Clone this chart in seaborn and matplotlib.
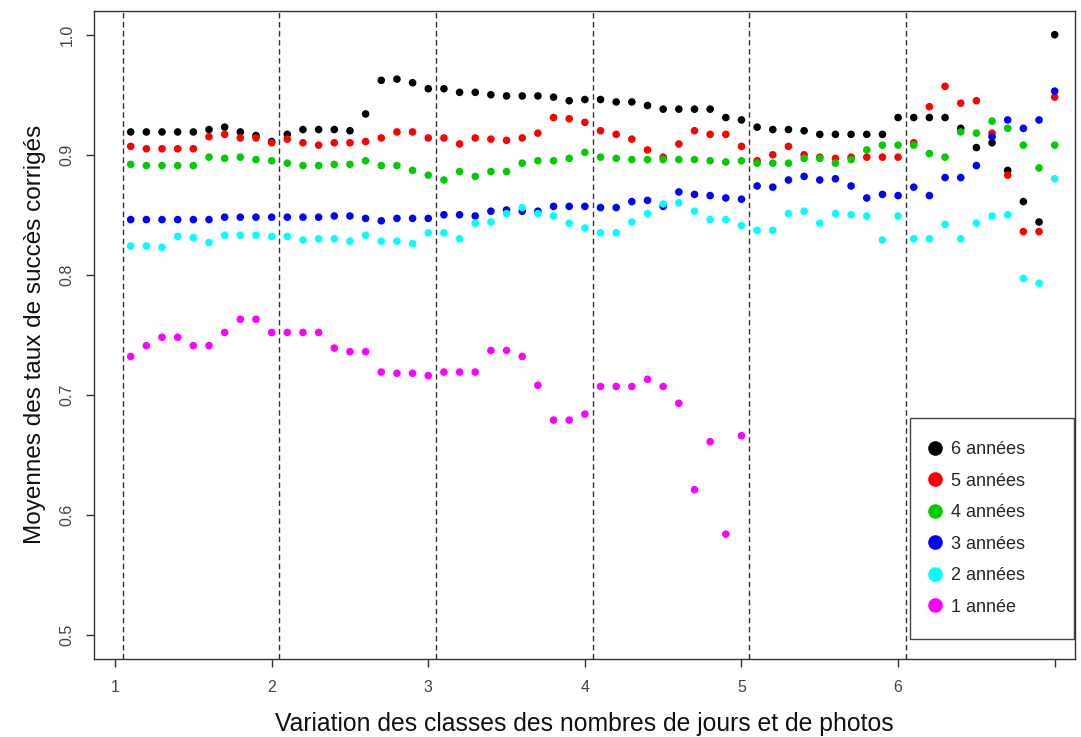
import numpy as np
import pandas as pd
import matplotlib
matplotlib.use("Agg")
import matplotlib.pyplot as plt
from matplotlib.lines import Line2D
import seaborn as sns

# Classes (x positions of each mean)
classes = [1.1, 1.2, 1.3, 1.4, 1.5, 1.6, 1.7, 1.8, 1.9, 2.0,
           2.1, 2.2, 2.3, 2.4, 2.5, 2.6, 2.7, 2.8, 2.9, 3.0,
           3.1, 3.2, 3.3, 3.4, 3.5, 3.6, 3.7, 3.8, 3.9, 4.0,
           4.1, 4.2, 4.3, 4.4, 4.5, 4.6, 4.7, 4.8, 4.9, 5.0,
           5.1, 5.2, 5.3, 5.4, 5.5, 5.6, 5.7, 5.8, 5.9, 6.0,
           6.1, 6.2, 6.3, 6.4, 6.5, 6.6, 6.7, 6.8, 6.9, 7.0]

annees_6 = [0.919, 0.919, 0.919, 0.919, 0.919, 0.921, 0.923, 0.919, 0.916, 0.911,
            0.917, 0.921, 0.921, 0.921, 0.920, 0.934, 0.962, 0.963, 0.960, 0.955,
            0.955, 0.952, 0.952, 0.950, 0.949, 0.949, 0.949, 0.948, 0.945, 0.946,
            0.946, 0.944, 0.944, 0.941, 0.938, 0.938, 0.938, 0.938, 0.931, 0.929,
            0.923, 0.921, 0.921, 0.920, 0.917, 0.917, 0.917, 0.917, 0.917, 0.931,
            0.931, 0.931, 0.931, 0.922, 0.906, 0.910, 0.887, 0.861, 0.844, 1.000]

annees_5 = [0.907, 0.905, 0.905, 0.905, 0.905, 0.915, 0.917, 0.914, 0.914, 0.910,
            0.913, 0.910, 0.908, 0.910, 0.910, 0.911, 0.914, 0.919, 0.919, 0.914,
            0.914, 0.909, 0.914, 0.913, 0.912, 0.914, 0.918, 0.931, 0.930, 0.927,
            0.920, 0.917, 0.913, 0.904, 0.898, 0.909, 0.920, 0.917, 0.917, 0.907,
            0.895, 0.900, 0.907, 0.900, 0.898, 0.897, 0.898, 0.898, 0.898, 0.898,
            0.910, 0.940, 0.957, 0.943, 0.945, 0.918, 0.883, 0.836, 0.836, 0.948]

annees_4 = [0.892, 0.891, 0.891, 0.891, 0.891, 0.898, 0.897, 0.898, 0.896, 0.895,
            0.893, 0.891, 0.891, 0.892, 0.892, 0.895, 0.891, 0.891, 0.887, 0.883,
            0.879, 0.886, 0.882, 0.886, 0.886, 0.893, 0.895, 0.895, 0.897, 0.902,
            0.898, 0.897, 0.896, 0.896, 0.896, 0.896, 0.896, 0.895, 0.894, 0.895,
            0.893, 0.893, 0.893, 0.897, 0.897, 0.893, 0.896, 0.904, 0.908, 0.908,
            0.908, 0.901, 0.898, 0.919, 0.918, 0.928, 0.922, 0.908, 0.889, 0.908]

annees_3 = [0.846, 0.846, 0.846, 0.846, 0.846, 0.846, 0.848, 0.848, 0.848, 0.848,
            0.848, 0.848, 0.848, 0.849, 0.849, 0.847, 0.845, 0.847, 0.847, 0.847,
            0.850, 0.850, 0.849, 0.853, 0.854, 0.853, 0.853, 0.857, 0.857, 0.857,
            0.856, 0.856, 0.861, 0.862, 0.857, 0.869, 0.867, 0.866, 0.864, 0.863,
            0.874, 0.873, 0.879, 0.882, 0.879, 0.880, 0.874, 0.864, 0.867, 0.866,
            0.873, 0.866, 0.881, 0.881, 0.891, 0.915, 0.929, 0.922, 0.929, 0.953]

annees_2 = [0.824, 0.824, 0.823, 0.832, 0.831, 0.827, 0.833, 0.833, 0.833, 0.832,
            0.832, 0.829, 0.830, 0.830, 0.828, 0.833, 0.828, 0.828, 0.826, 0.835,
            0.835, 0.830, 0.843, 0.844, 0.851, 0.856, 0.851, 0.849, 0.843, 0.839,
            0.835, 0.835, 0.844, 0.851, 0.859, 0.860, 0.853, 0.846, 0.846, 0.841,
            0.837, 0.837, 0.851, 0.853, 0.843, 0.851, 0.850, 0.849, 0.829, 0.849,
            0.830, 0.830, 0.842, 0.830, 0.843, 0.849, 0.850, 0.797, 0.793, 0.880]

# one-year series stops at class 5.0
annee_1 = [0.732, 0.741, 0.748, 0.748, 0.741, 0.741, 0.752, 0.763, 0.763, 0.752,
           0.752, 0.752, 0.752, 0.739, 0.736, 0.736, 0.719, 0.718, 0.718, 0.716,
           0.719, 0.719, 0.719, 0.737, 0.737, 0.732, 0.708, 0.679, 0.679, 0.684,
           0.707, 0.707, 0.707, 0.713, 0.707, 0.693, 0.621, 0.661, 0.584, 0.666]

series_labels = ["6 années", "5 années", "4 années", "3 années", "2 années", "1 année"]
series_values = [annees_6, annees_5, annees_4, annees_3, annees_2, annee_1]
series_colors = ["#000000", "#FF0000", "#00CD00", "#0000FF", "#00FFFF", "#FF00FF"]

separators = [1.05, 2.05, 3.05, 4.05, 5.05, 6.05]

frames = []
for lab, vals in zip(series_labels, series_values):
    frames.append(pd.DataFrame({"classe": classes[:len(vals)],
                                "taux": vals,
                                "serie": lab}))
df = pd.concat(frames, ignore_index=True)

sns.set_style("white")
plt.rcParams["font.family"] = ["Liberation Sans", "DejaVu Sans"]

fig = plt.figure(figsize=(10.81, 7.37), dpi=100)
ax = fig.add_axes([0.087, 0.1058, 0.9075, 0.8797])

for xv in separators:
    ax.axvline(xv, color="#333333", lw=1.0, ls=(0, (4, 2.5)), zorder=1)

palette = dict(zip(series_labels, series_colors))
sns.scatterplot(data=df, x="classe", y="taux", hue="serie",
                hue_order=series_labels, palette=palette,
                s=30, linewidth=0, legend=False, ax=ax, zorder=3)

ax.set_xlim(0.866, 7.13)
ax.set_ylim(0.48, 1.02)
ax.set_xticks([1, 2, 3, 4, 5, 6, 7])
ax.set_xticklabels(["1", "2", "3", "4", "5", "6", ""])
ax.set_yticks([0.5, 0.6, 0.7, 0.8, 0.9, 1.0])
ax.set_yticklabels(["0.5", "0.6", "0.7", "0.8", "0.9", "1.0"], rotation=90,
                   va="center")

for sp in ax.spines.values():
    sp.set_visible(True)
    sp.set_color("#333333")
    sp.set_linewidth(1.0)

ax.tick_params(axis="both", direction="out", length=6, width=1.0,
               color="#333333", labelsize=11.5, labelcolor="#444444",
               bottom=True, left=True)
ax.tick_params(axis="x", pad=9)
ax.tick_params(axis="y", pad=8)

ax.set_xlabel("Variation des classes des nombres de jours et de photos",
              fontsize=17.8, labelpad=12, color="#111111")
ax.set_ylabel("Moyennes des taux de succès corrigés",
              fontsize=17.5, labelpad=10, color="#111111")

handles = [Line2D([0], [0], marker="o", ls="none", markersize=10.5,
                  markerfacecolor=c, markeredgewidth=0, label=l)
           for l, c in zip(series_labels, series_colors)]
leg = ax.legend(handles=handles, loc="lower left", mode="expand",
                bbox_to_anchor=(0.8318, 0.0309, 0.1672, 0.341),
                frameon=True, fancybox=False, framealpha=1,
                edgecolor="#444444", fontsize=13,
                borderpad=1.3, labelspacing=0.8, handletextpad=0.75,
                handlelength=0.2, borderaxespad=0)
leg.get_frame().set_linewidth(1.0)

fig.savefig("out.png", dpi=100)
